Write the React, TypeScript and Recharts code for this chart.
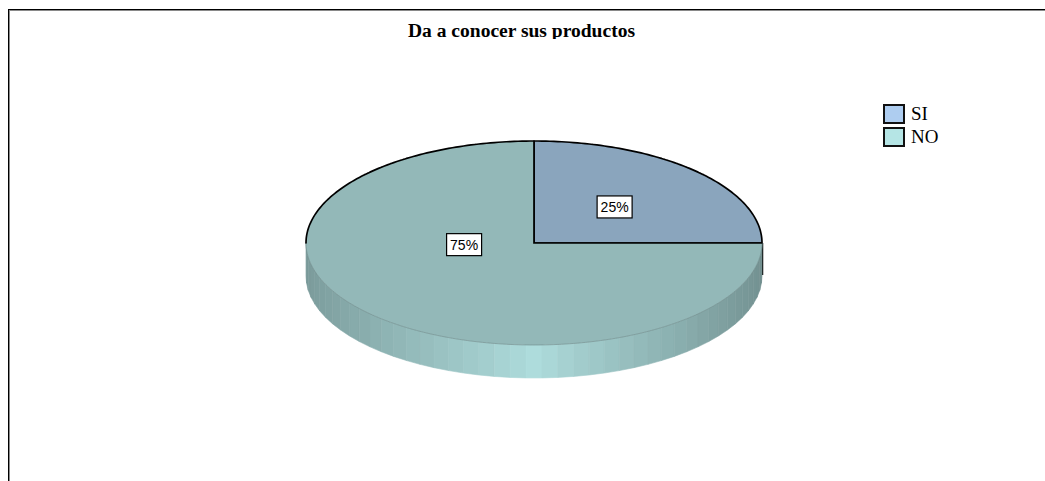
import { PieChart, Pie, Legend } from 'recharts'

const categories = ['SI', 'NO']
const shares = [25, 75]
const topColors = ['#8aa5bd', '#93b8b8']
const legendColors = ['#aecdf0', '#b5e5e5']

// where each percentage box sits, as an angle and a fraction of the radius
const labelAngles = [45, 183]
const labelRadii = [0.5, 0.307]

const data = categories.map((name, i) => ({ name, value: shares[i], fill: topColors[i] }))

const WIDTH = 1045
const HEIGHT = 481
const CX = 534
const CY = 243
const RADIUS = 228
const SQUASH = 102 / 228
const DEPTH = 33
const RAD = Math.PI / 180

const pointAt = (cx: number, cy: number, r: number, deg: number) => ({
  x: cx + r * Math.cos(deg * RAD),
  y: cy - r * SQUASH * Math.sin(deg * RAD),
})

const mix = (a: number[], b: number[], t: number) =>
  `rgb(${a.map((v, i) => Math.round(v + (b[i] - v) * t)).join(',')})`

const LEFT_SHADE = [122, 154, 154]
const RIGHT_SHADE = [114, 144, 144]
const FRONT_SHADE = [174, 220, 220]

// side wall of a slice, built from flat facets along the front half of the rim
const WallShape = (props: any) => {
  const { cx, cy, outerRadius, startAngle, endAngle } = props
  const hi = Math.max(startAngle, endAngle)
  const lo = Math.min(startAngle, endAngle)
  const facets = []
  for (let a = -180; a < 0; a += 4) {
    const from = Math.max(a, lo)
    const to = Math.min(a + 4, hi)
    if (to <= from) continue
    const p1 = pointAt(cx, cy, outerRadius, from)
    const p2 = pointAt(cx, cy, outerRadius, to)
    const mid = a + 2
    const t = mid < -90 ? (mid + 180) / 90 : (0 - mid) / 90
    const fill = mix(mid < -90 ? LEFT_SHADE : RIGHT_SHADE, FRONT_SHADE, Math.pow(t, 1.6))
    facets.push(
      <path
        key={a}
        d={`M${p1.x},${p1.y} L${p2.x},${p2.y} L${p2.x},${p2.y + DEPTH} L${p1.x},${p1.y + DEPTH} Z`}
        fill={fill}
        stroke={fill}
        strokeWidth={0.6}
      />
    )
  }
  return <g>{facets}</g>
}

// top face of a slice, squashed into an ellipse
const TopShape = (props: any) => {
  const { cx, cy, outerRadius, startAngle, endAngle, fill } = props
  const step = startAngle > endAngle ? -1 : 1
  const upper: string[] = []
  const lower: string[] = []
  const outline: string[] = []
  for (let a = startAngle; step < 0 ? a >= endAngle : a <= endAngle; a += step) {
    const p = pointAt(cx, cy, outerRadius, a)
    outline.push(`${p.x},${p.y}`)
    if (a === endAngle) continue
    const next = pointAt(cx, cy, outerRadius, a + step)
    const seg = `M${p.x},${p.y} L${next.x},${next.y}`
    const norm = ((a + step / 2) % 360 + 360) % 360
    if (norm < 180) upper.push(seg)
    else lower.push(seg)
  }
  const rim = outline.join(' L')
  const start = pointAt(cx, cy, outerRadius, startAngle)
  const end = pointAt(cx, cy, outerRadius, endAngle)
  return (
    <g>
      <path d={`M${cx},${cy} L${rim} Z`} fill={fill} stroke="none" />
      <path d={lower.join(' ')} fill="none" stroke="#6f8a8a" strokeWidth={0.6} />
      <path d={upper.join(' ')} fill="none" stroke="#000" strokeWidth={1.7} strokeLinecap="round" />
      <path
        d={`M${start.x},${start.y} L${cx},${cy} L${end.x},${end.y}`}
        fill="none"
        stroke="#000"
        strokeWidth={1.7}
      />
    </g>
  )
}

const PercentLabel = (props: any) => {
  const { cx, cy, percent, index } = props
  const p = pointAt(cx, cy, RADIUS * labelRadii[index], labelAngles[index])
  return (
    <g>
      <rect x={p.x - 17.5} y={p.y - 11} width={35} height={22} fill="#fff" stroke="#000" strokeWidth={1.2} />
      <text
        x={p.x}
        y={p.y + 5}
        textAnchor="middle"
        fontFamily="Liberation Sans"
        fontSize={14}
        fill="#000"
      >
        {`${Math.round(percent * 100)}%`}
      </text>
    </g>
  )
}

// both pies feed the legend, so keep one row per category
const LegendBox = () => (
  <div style={{ fontFamily: 'Liberation Serif', fontSize: 19, color: '#000' }}>
    {categories.map((name, i) => (
      <div key={name} style={{ display: 'flex', alignItems: 'center', height: 23.5 }}>
        <span
          style={{
            width: 18,
            height: 16,
            marginRight: 6,
            border: '2px solid #111',
            background: legendColors[i],
            boxSizing: 'content-box',
          }}
        />
        {name}
      </div>
    ))}
  </div>
)

export default function App() {
  return (
    <div style={{ position: 'absolute', left: 0, top: 0, width: WIDTH, height: HEIGHT, overflow: 'hidden', background: '#fff' }}>
      <div
        style={{
          position: 'absolute',
          left: 8,
          top: 9,
          width: WIDTH,
          height: HEIGHT,
          borderLeft: '1px solid #000',
          borderTop: '1px solid #000',
          boxShadow: 'inset 1px 1px 0 #8a8a8a',
        }}
      />
      <div style={{ position: 'absolute', left: 0, top: 0 }}>
        <PieChart width={WIDTH} height={HEIGHT} margin={{ top: 0, right: 0, bottom: 0, left: 0 }}>
          <defs>
            <clipPath id="title-clip">
              <rect x={380} y={15} width={290} height={24} />
            </clipPath>
          </defs>
          <text
            x={521.5}
            y={37}
            textAnchor="middle"
            fontFamily="Liberation Serif"
            fontWeight="bold"
            fontSize={18}
            fill="#000"
            textLength={227}
            lengthAdjust="spacingAndGlyphs"
            clipPath="url(#title-clip)"
          >
            Da a conocer sus productos
          </text>
          <Pie
            data={data}
            dataKey="value"
            nameKey="name"
            cx={CX}
            cy={CY}
            outerRadius={RADIUS}
            startAngle={90}
            endAngle={-270}
            shape={WallShape}
            legendType="none"
            isAnimationActive={false}
          />
          <Pie
            data={data}
            dataKey="value"
            nameKey="name"
            cx={CX}
            cy={CY}
            outerRadius={RADIUS}
            startAngle={90}
            endAngle={-270}
            shape={TopShape}
            label={PercentLabel}
            labelLine={false}
            isAnimationActive={false}
          />
          <line x1={762.5} y1={243} x2={762.5} y2={275} stroke="#000" strokeWidth={1.5} />
          <Legend
            content={<LegendBox />}
            layout="vertical"
            wrapperStyle={{ position: 'absolute', left: 883, top: 102, width: 80 }}
          />
        </PieChart>
      </div>
    </div>
  )
}
